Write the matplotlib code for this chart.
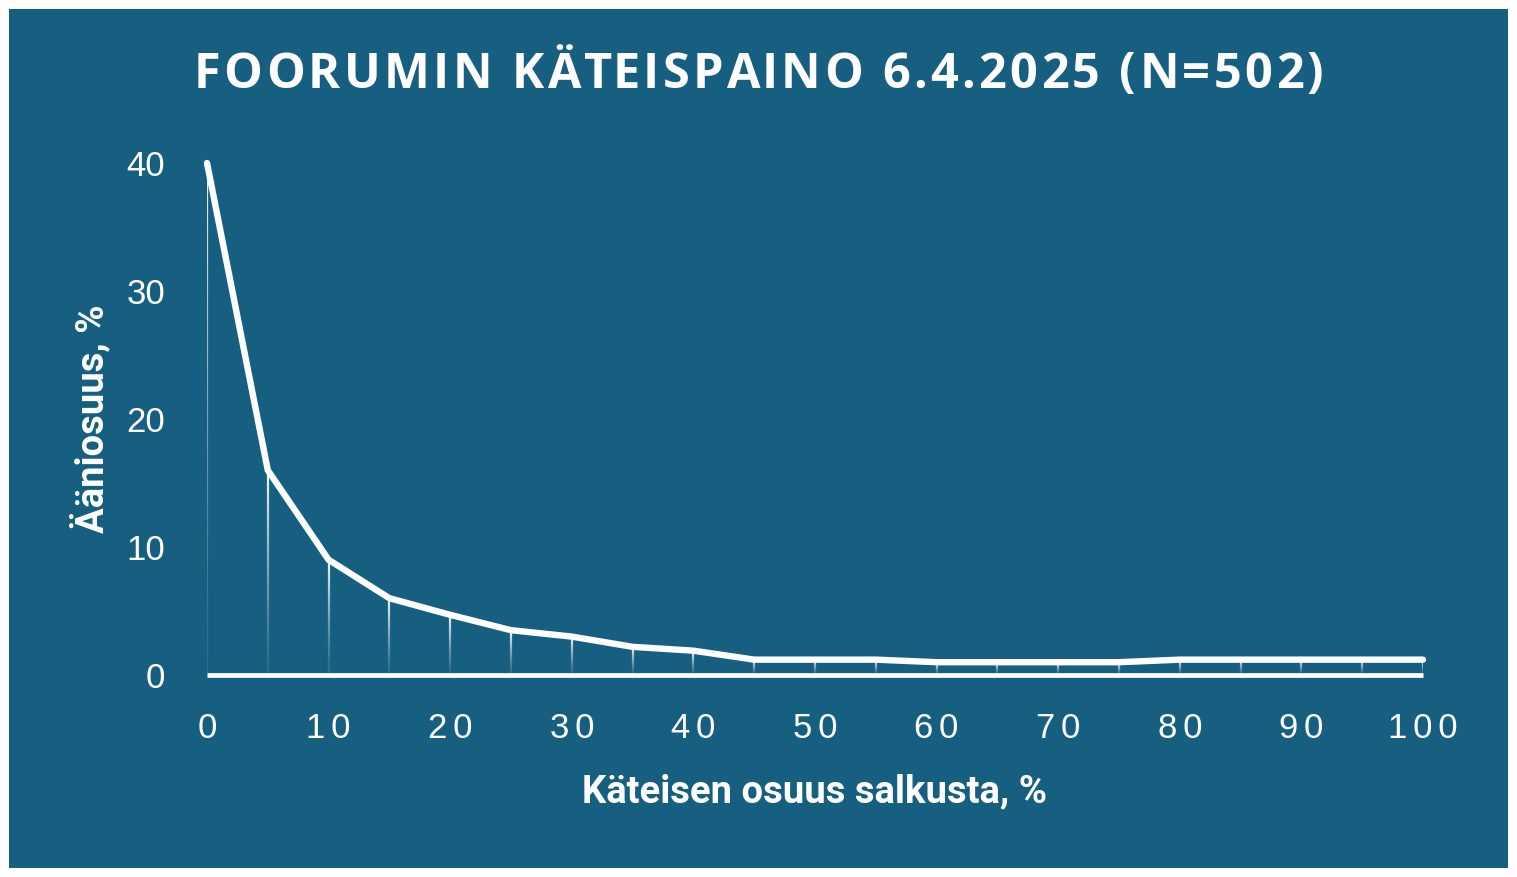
import numpy as np
import matplotlib.pyplot as plt
from matplotlib.collections import LineCollection
from matplotlib.patches import Rectangle

# käteisen osuus salkusta (%) ja ääniosuus (%)
osuus = [0, 5, 10, 15, 20, 25, 30, 35, 40, 45, 50, 55, 60, 65, 70, 75, 80, 85, 90, 95, 100]
aanet = [40.0, 16.0, 9.0, 6.0, 4.7, 3.5, 3.0, 2.2, 1.9, 1.2, 1.2, 1.2, 1.0, 1.0, 1.0, 1.0, 1.2, 1.2, 1.2, 1.2, 1.2]
xtikit = [0, 10, 20, 30, 40, 50, 60, 70, 80, 90, 100]
ytikit = [0, 10, 20, 30, 40]
otsikko = "FOORUMIN KÄTEISPAINO 6.4.2025 (N=502)"

tausta = "#175f80"
hs = "\u200a"

def harva(s, n=1):
    return (hs * n).join(s)

fig = plt.figure(figsize=(15.17, 8.77), dpi=100, facecolor="white")
fig.patches.append(Rectangle((9 / 1517, 9 / 877), 1499 / 1517, 859 / 877,
                             transform=fig.transFigure, facecolor=tausta, edgecolor="none", zorder=-10))

ax = fig.add_axes([207 / 1517, 202 / 877, 1216 / 1517, 512 / 877])
ax.set_facecolor("none")
ax.set_xlim(0, 100)
ax.set_ylim(0, 40)
for s in ax.spines.values():
    s.set_visible(False)

# pudotusviivat liukuvärillä
segs = []
cols = []
n = 30
for x, y in zip(osuus, aanet):
    yy = np.linspace(0, y, n + 1)
    for i in range(n):
        segs.append([(x, yy[i]), (x, yy[i + 1])])
        cols.append((1, 1, 1, 0.08 + 0.9 * (i / n) ** 1.3))
ax.add_collection(LineCollection(segs, colors=cols, linewidths=1.6, zorder=2))

ax.plot([0, 100], [0, 0], color="white", lw=3.4, solid_capstyle="butt", zorder=3, clip_on=False)
ax.plot(osuus, aanet, color="white", lw=4.6, solid_capstyle="round", solid_joinstyle="miter",
        zorder=4, clip_on=False)

ax.set_xticks(xtikit)
ax.set_xticklabels([harva(str(v), 2) for v in xtikit], family=["Liberation Sans", "DejaVu Sans"])
ax.set_yticks(ytikit)
ax.set_yticklabels([str(v) for v in ytikit], family=["Liberation Sans", "DejaVu Sans"])
ax.tick_params(axis="both", length=0, colors="white", labelsize=25)
ax.tick_params(axis="x", pad=27)
ax.tick_params(axis="y", pad=30)

ax.set_xlabel("Käteisen osuus salkusta, %", color="white", fontsize=27.5, fontweight="bold",
              family=["Roboto", "DejaVu Sans"], labelpad=20)
ax.set_ylabel("Ääniosuus, %", color="white", fontsize=27.5, fontweight="bold",
              family=["Roboto", "DejaVu Sans"], labelpad=11)

# otsikko harvennettuna: kirjaimet yksitellen
r = fig.canvas.get_renderer()
fkw = dict(color="white", fontsize=35, fontweight="bold", va="center", ha="left",
           family=["Open Sans", "DejaVu Sans"])

def leveys(s):
    t = fig.text(0, 0, s + "|", **fkw)
    u = fig.text(0, 0, "|", **fkw)
    w = t.get_window_extent(r).width - u.get_window_extent(r).width
    t.remove()
    u.remove()
    return w

luonnollinen = leveys(otsikko)
kohde = 1130
vali = (kohde - luonnollinen) / (len(otsikko) - 1)
x0 = 1517 / 2 - kohde / 2
for i, c in enumerate(otsikko):
    xp = x0 + leveys(otsikko[:i]) + i * vali
    fig.text(xp / 1517, 1 - 75 / 877, c, **fkw)

fig.savefig("out.png", dpi=100, facecolor="white")
